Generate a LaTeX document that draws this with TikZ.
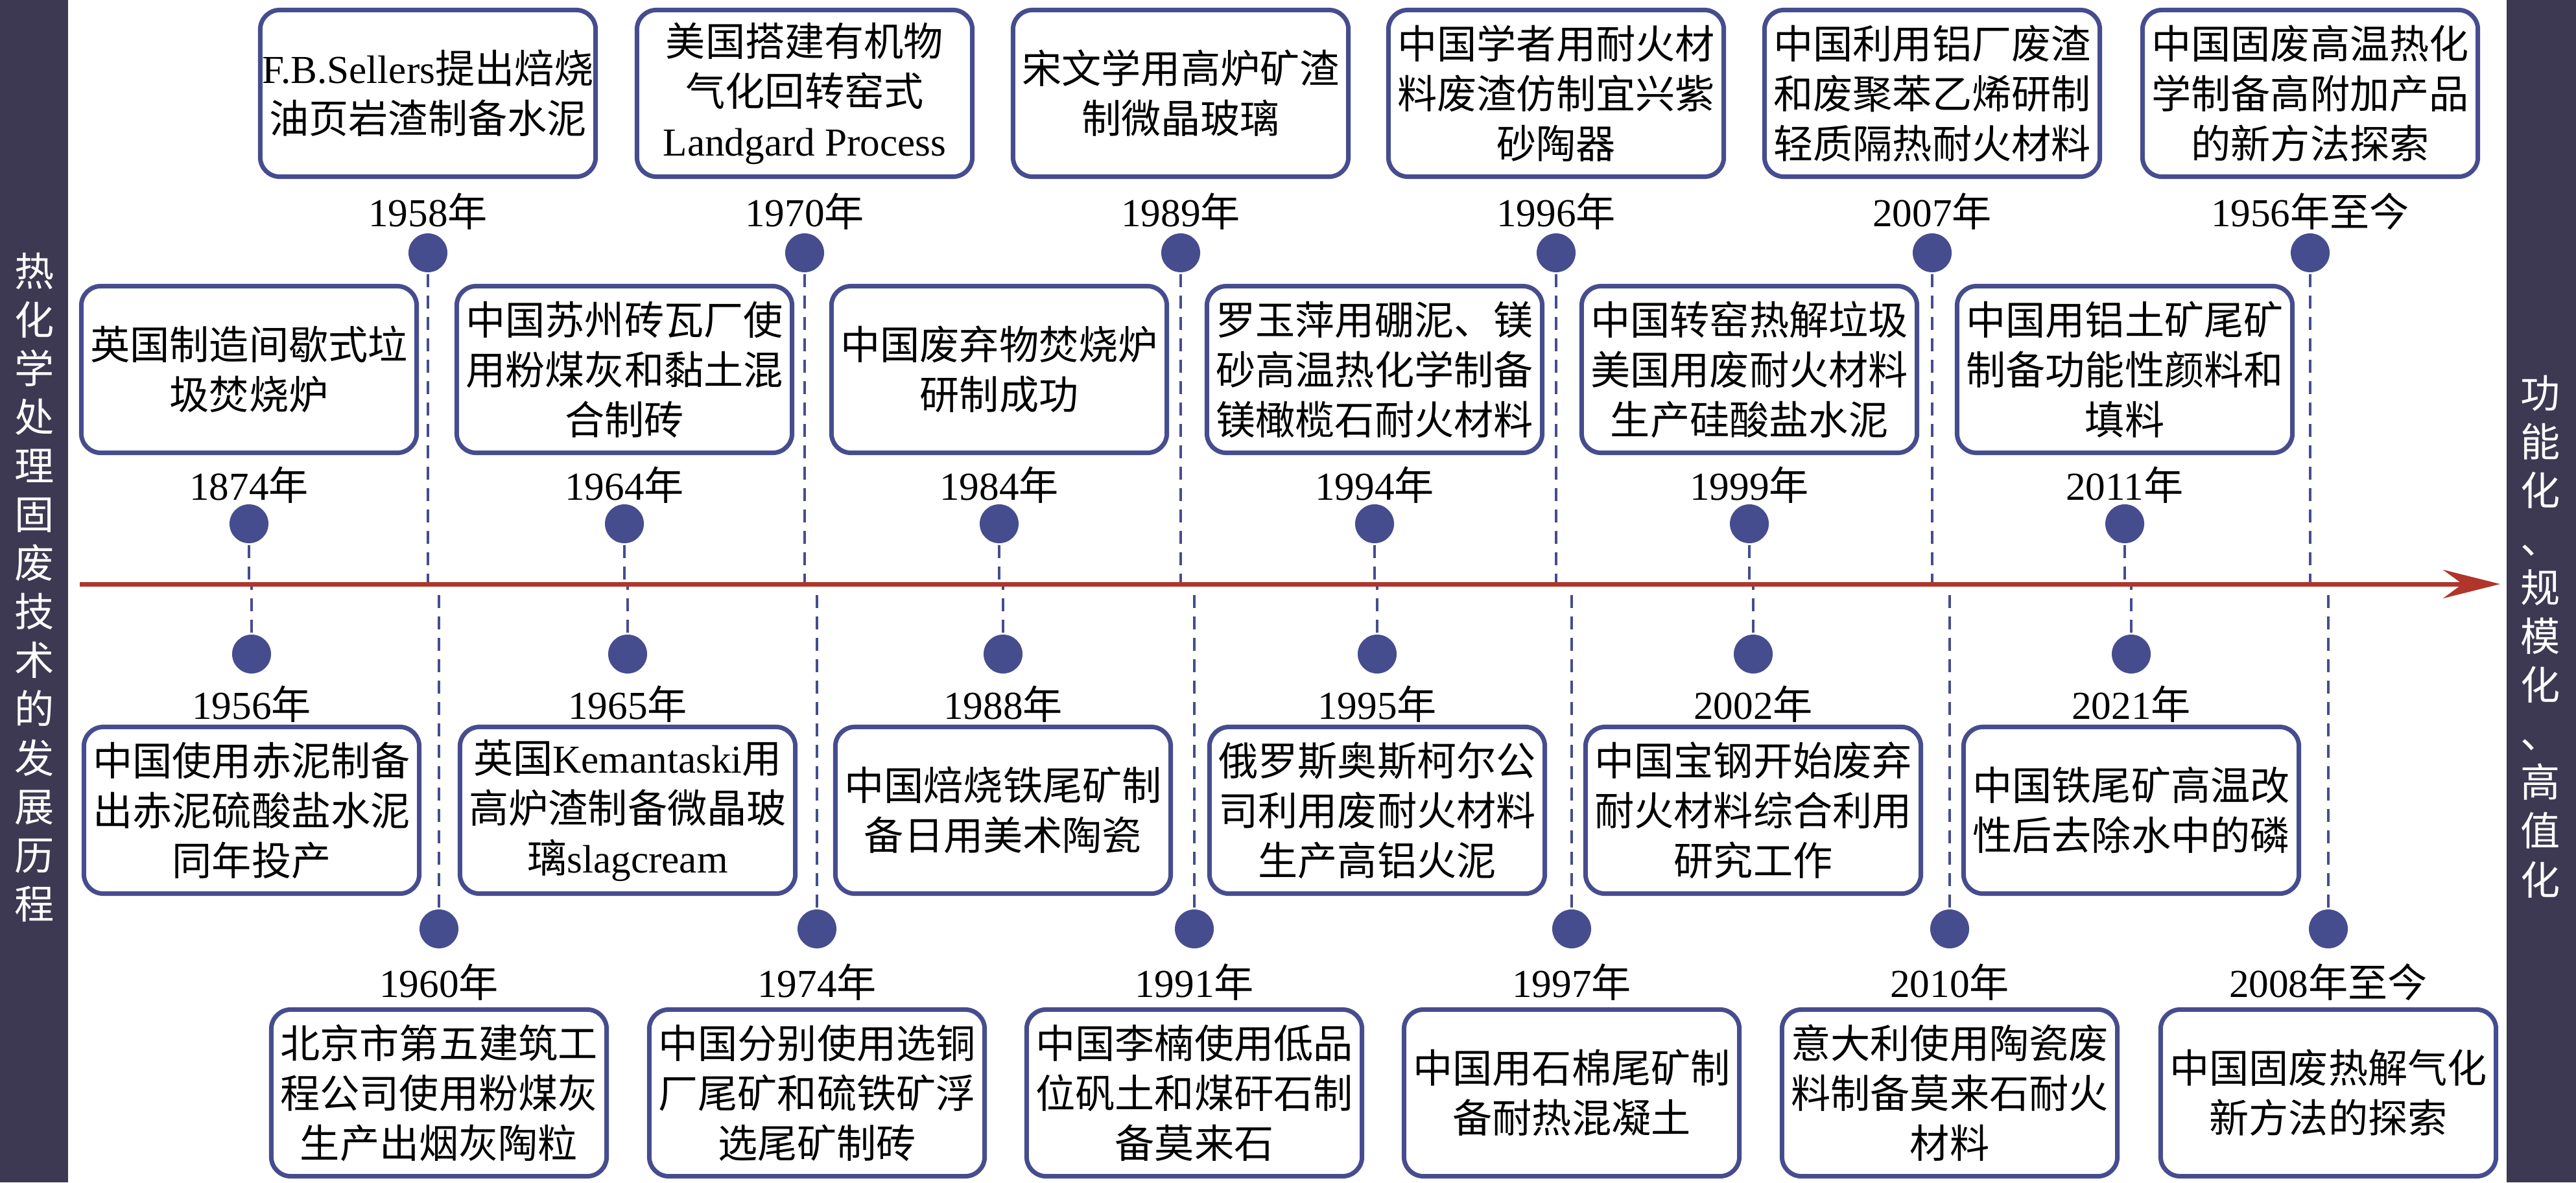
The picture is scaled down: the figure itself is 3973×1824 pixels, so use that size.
\documentclass[tikz,border=0pt]{standalone}
\usepackage{fontspec}
\setmainfont{Liberation Serif}
\newfontfamily\cjk{Noto Sans CJK SC}
\usetikzlibrary{arrows.meta,backgrounds}
\definecolor{barcol}{HTML}{3E3952}
\definecolor{bluecol}{HTML}{464D8E}
\definecolor{redcol}{HTML}{B0352B}
\newcommand{\lat}[1]{{\rmfamily #1}}
\tikzset{
  evbox/.style={draw=bluecol, line width=0.07cm, rounded corners=0.3cm, fill=white,
    minimum width=5.17cm, minimum height=2.57cm, inner sep=0pt, align=center,
    font=\fontsize{17.4pt}{21.9pt}\cjk},
  yrlabel/.style={inner sep=0pt, font=\fontsize{17.4pt}{20pt}\cjk},
  evdot/.style={circle, fill=bluecol, minimum size=0.6cm, inner sep=0pt},
  dashlink/.style={draw=bluecol, line width=0.04cm, dash pattern=on 0.2cm off 0.13cm},
  barlabel/.style={text=white, align=center, inner sep=0pt, font=\fontsize{17.4pt}{21.34pt}\cjk},
  barfill/.style={fill=barcol, draw=none}
}
\begin{document}
\begin{tikzpicture}[x=0.01cm, y=-0.01cm]
\useasboundingbox (0,0) rectangle (3973,1824);
% side bars
\fill[barfill] (0,0) rectangle (105,1824);
\fill[barfill] (3866,0) rectangle (3973,1824);
\node[barlabel] (lbar) at (53,906) {热\\化\\学\\处\\理\\固\\废\\技\\术\\的\\发\\展\\历\\程};
\node[barlabel] (rbar) at (3918,982) {功\\能\\化\\、\\规\\模\\化\\、\\高\\值\\化};
% axis
\coordinate (astart) at (123,901);
\coordinate (aend) at (3856,901);
\coordinate (axis) at (0,901);
% dots
\node[evdot] (pa1) at (660,390) {};
\node[evdot] (pa2) at (1241,390) {};
\node[evdot] (pa3) at (1821,390) {};
\node[evdot] (pa4) at (2400,390) {};
\node[evdot] (pa5) at (2980,390) {};
\node[evdot] (pa6) at (3563,390) {};
\node[evdot] (pb1) at (384,808) {};
\node[evdot] (pb2) at (963,808) {};
\node[evdot] (pb3) at (1541,808) {};
\node[evdot] (pb4) at (2120,808) {};
\node[evdot] (pb5) at (2698,808) {};
\node[evdot] (pb6) at (3277,808) {};
\node[evdot] (pc1) at (388,1009) {};
\node[evdot] (pc2) at (968,1009) {};
\node[evdot] (pc3) at (1547,1009) {};
\node[evdot] (pc4) at (2124,1009) {};
\node[evdot] (pc5) at (2704,1009) {};
\node[evdot] (pc6) at (3287,1009) {};
\node[evdot] (pd1) at (677,1433) {};
\node[evdot] (pd2) at (1260,1433) {};
\node[evdot] (pd3) at (1842,1433) {};
\node[evdot] (pd4) at (2424,1433) {};
\node[evdot] (pd5) at (3007,1433) {};
\node[evdot] (pd6) at (3591,1433) {};
% dashed connectors (behind the dots)
\begin{pgfonlayer}{background}
\foreach \p in {pa1,pa2,pa3,pa4,pa5,pa6,pb1,pb2,pb3,pb4,pb5,pb6,pc1,pc2,pc3,pc4,pc5,pc6,pd1,pd2,pd3,pd4,pd5,pd6}
  \draw[dashlink] (\p.center) -- (\p |- axis);
\end{pgfonlayer}
\draw[redcol, line width=0.07cm, -{Stealth[length=0.88cm,width=0.44cm,inset=0.3cm]}] (astart) -- (aend);
% row A
\node[evbox] (a1) at (660,144) {\lat{F.B.Sellers}提出焙烧\\油页岩渣制备水泥};
\node[evbox] (a2) at (1241,144) {美国搭建有机物\\气化回转窑式\\\lat{Landgard Process}};
\node[evbox] (a3) at (1821,144) {宋文学用高炉矿渣\\制微晶玻璃};
\node[evbox] (a4) at (2400,144) {中国学者用耐火材\\料废渣仿制宜兴紫\\砂陶器};
\node[evbox] (a5) at (2980,144) {中国利用铝厂废渣\\和废聚苯乙烯研制\\轻质隔热耐火材料};
\node[evbox] (a6) at (3563,144) {中国固废高温热化\\学制备高附加产品\\的新方法探索};
\node[yrlabel] (ya1) at (660,326) {\lat{1958}年};
\node[yrlabel] (ya2) at (1241,326) {\lat{1970}年};
\node[yrlabel] (ya3) at (1821,326) {\lat{1989}年};
\node[yrlabel] (ya4) at (2400,326) {\lat{1996}年};
\node[yrlabel] (ya5) at (2980,326) {\lat{2007}年};
\node[yrlabel] (ya6) at (3563,326) {\lat{1956}年至今};
% row B
\node[evbox] (b1) at (384,570) {英国制造间歇式垃\\圾焚烧炉};
\node[evbox] (b2) at (963,570) {中国苏州砖瓦厂使\\用粉煤灰和黏土混\\合制砖};
\node[evbox] (b3) at (1541,570) {中国废弃物焚烧炉\\研制成功};
\node[evbox] (b4) at (2120,570) {罗玉萍用硼泥、镁\\砂高温热化学制备\\镁橄榄石耐火材料};
\node[evbox] (b5) at (2698,570) {中国转窑热解垃圾\\美国用废耐火材料\\生产硅酸盐水泥};
\node[evbox] (b6) at (3277,570) {中国用铝土矿尾矿\\制备功能性颜料和\\填料};
\node[yrlabel] (yb1) at (384,748) {\lat{1874}年};
\node[yrlabel] (yb2) at (963,748) {\lat{1964}年};
\node[yrlabel] (yb3) at (1541,748) {\lat{1984}年};
\node[yrlabel] (yb4) at (2120,748) {\lat{1994}年};
\node[yrlabel] (yb5) at (2698,748) {\lat{1999}年};
\node[yrlabel] (yb6) at (3277,748) {\lat{2011}年};
% row C
\node[yrlabel] (yc1) at (388,1086) {\lat{1956}年};
\node[yrlabel] (yc2) at (968,1086) {\lat{1965}年};
\node[yrlabel] (yc3) at (1547,1086) {\lat{1988}年};
\node[yrlabel] (yc4) at (2124,1086) {\lat{1995}年};
\node[yrlabel] (yc5) at (2704,1086) {\lat{2002}年};
\node[yrlabel] (yc6) at (3287,1086) {\lat{2021}年};
\node[evbox] (c1) at (388,1250) {中国使用赤泥制备\\出赤泥硫酸盐水泥\\同年投产};
\node[evbox] (c2) at (968,1250) {英国\lat{Kemantaski}用\\高炉渣制备微晶玻\\璃\lat{slagcream}};
\node[evbox] (c3) at (1547,1250) {中国焙烧铁尾矿制\\备日用美术陶瓷};
\node[evbox] (c4) at (2124,1250) {俄罗斯奥斯柯尔公\\司利用废耐火材料\\生产高铝火泥};
\node[evbox] (c5) at (2704,1250) {中国宝钢开始废弃\\耐火材料综合利用\\研究工作};
\node[evbox] (c6) at (3287,1250) {中国铁尾矿高温改\\性后去除水中的磷};
% row D
\node[yrlabel] (yd1) at (677,1515) {\lat{1960}年};
\node[yrlabel] (yd2) at (1260,1515) {\lat{1974}年};
\node[yrlabel] (yd3) at (1842,1515) {\lat{1991}年};
\node[yrlabel] (yd4) at (2424,1515) {\lat{1997}年};
\node[yrlabel] (yd5) at (3007,1515) {\lat{2010}年};
\node[yrlabel] (yd6) at (3591,1515) {\lat{2008}年至今};
\node[evbox] (d1) at (677,1686) {北京市第五建筑工\\程公司使用粉煤灰\\生产出烟灰陶粒};
\node[evbox] (d2) at (1260,1686) {中国分别使用选铜\\厂尾矿和硫铁矿浮\\选尾矿制砖};
\node[evbox] (d3) at (1842,1686) {中国李楠使用低品\\位矾土和煤矸石制\\备莫来石};
\node[evbox] (d4) at (2424,1686) {中国用石棉尾矿制\\备耐热混凝土};
\node[evbox] (d5) at (3007,1686) {意大利使用陶瓷废\\料制备莫来石耐火\\材料};
\node[evbox] (d6) at (3591,1686) {中国固废热解气化\\新方法的探索};
\end{tikzpicture}
\end{document}
